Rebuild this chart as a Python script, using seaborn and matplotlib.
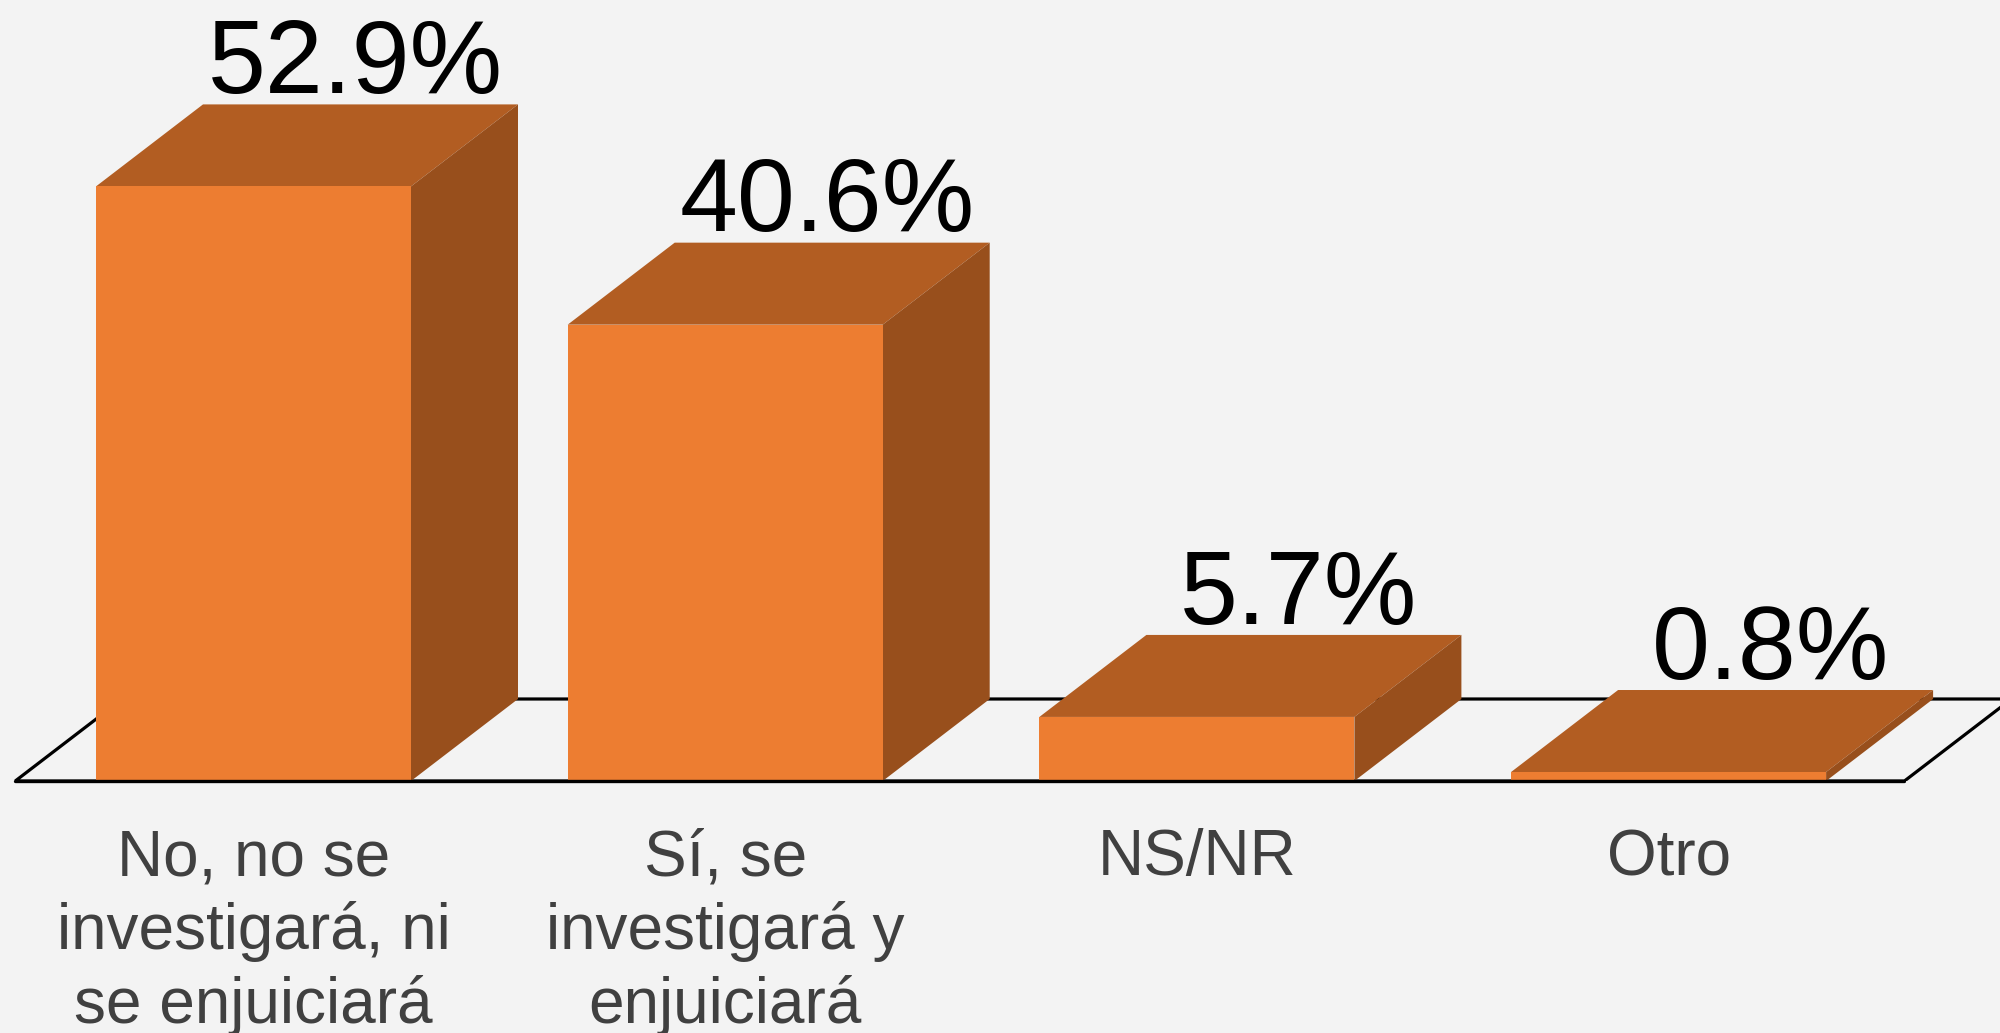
"""Bar chart drawn as 3D-looking columns on a floor, seaborn for the front faces."""
import matplotlib
matplotlib.use("Agg")
import matplotlib.pyplot as plt
import seaborn as sns
from matplotlib.patches import Polygon

categories = ["No, no se\ninvestigará, ni\nse enjuiciará", "Sí, se\ninvestigará y\nenjuiciará", "NS/NR", "Otro"]
values = [52.9, 40.6, 5.7, 0.8]

BG = "#F3F3F3"
FRONT = "#ED7D31"
TOP = "#B25D22"
SIDE = "#984F1C"

# figure layout, in pixels of the 2000x1033 output
W, H = 2000, 1033
BASE_PX = 781
PX_PER_CAT = 471.7
PX_PER_UNIT = 11.24
FIRST_CENTER_PX = 253.5

# depth of the fake 3D, in data units
DX = 107 / PX_PER_CAT
DY = 82 / PX_PER_UNIT

sns.set_theme(style="white")
plt.rcParams["font.family"] = ["Liberation Sans", "DejaVu Sans"]

fig = plt.figure(figsize=(W / 100, H / 100), dpi=100, facecolor=BG)
ax = fig.add_axes([0, (H - BASE_PX) / H, 1, BASE_PX / H], facecolor=BG)

sns.barplot(x=categories, y=values, color=FRONT, saturation=1, width=315 / PX_PER_CAT,
            linewidth=0, ax=ax, zorder=3)

ax.set_xlim(-FIRST_CENTER_PX / PX_PER_CAT, (W - FIRST_CENTER_PX) / PX_PER_CAT)
ax.set_ylim(0, BASE_PX / PX_PER_UNIT)

# floor
fl, fr = -0.505, 3.5
ax.add_patch(Polygon([(fl, 0), (fr, 0), (fr + DX, DY), (fl + DX, DY)], closed=True,
                     fill=False, edgecolor="black", linewidth=2.3, zorder=1, joinstyle="miter"))
ax.plot([fl, fr], [0, 0], color="black", lw=2.4, zorder=5, clip_on=False)

# top and side faces + labels, taken from the bars seaborn drew
for bar, val in zip(ax.containers[0], values):
    x0 = bar.get_x()
    x1 = x0 + bar.get_width()
    y = bar.get_height()
    ax.add_patch(Polygon([(x0, y), (x1, y), (x1 + DX, y + DY), (x0 + DX, y + DY)],
                         closed=True, facecolor=TOP, edgecolor="none", zorder=2.5))
    ax.add_patch(Polygon([(x1, 0), (x1 + DX, DY), (x1 + DX, y + DY), (x1, y)],
                         closed=True, facecolor=SIDE, edgecolor="none", zorder=2.5))
    ax.text((x0 + x1) / 2 + DX * 0.95, y + DY + 1.0, f"{val:.1f}%", ha="center", va="baseline",
            fontsize=75, color="black", zorder=6)

for side in ax.spines.values():
    side.set_visible(False)
ax.set_yticks([])
ax.set_xlabel("")
ax.tick_params(axis="x", length=0, pad=34, labelsize=46, labelcolor="#404040")
for lab in ax.get_xticklabels():
    lab.set_linespacing(1.27)

fig.savefig("out.png", dpi=100, facecolor=BG)
